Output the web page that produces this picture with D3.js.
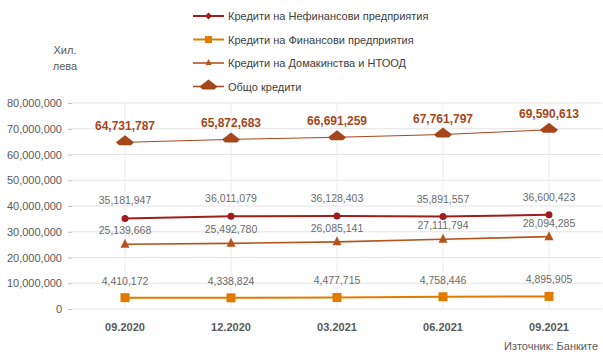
<!DOCTYPE html>
<html>
<head>
<meta charset="utf-8">
<script src="https://cdn.jsdelivr.net/npm/d3@7"></script>
<style>
  body { margin: 0; background: #fff; }
  text { font-family: "Liberation Sans", Arial, sans-serif; }
</style>
</head>
<body>
<svg id="chart"></svg>
<script>
var w = 603;
var h = 362;

// data
var periods = ["09.2020", "12.2020", "03.2021", "06.2021", "09.2021"];
var nonFinancial = [35181947, 36011079, 36128403, 35891557, 36600423];
var financial = [4410172, 4338824, 4477715, 4758446, 4895905];
var households = [25139668, 25492780, 26085141, 27111794, 28094285];
var total = [64731787, 65872683, 66691259, 67761797, 69590613];
var seriesNames = [
  "Кредити на Нефинансови предприятия",
  "Кредити на Финансови предприятия",
  "Кредити на Домакинства и НТООД",
  "Общо кредити"
];
var yTicks = [0, 10000000, 20000000, 30000000, 40000000, 50000000, 60000000, 70000000, 80000000];

var margin = { top: 103, right: 1, bottom: 53, left: 72 };

var svg = d3.select("#chart").attr("width", w).attr("height", h);

var x = d3.scaleBand()
  .domain(periods)
  .range([margin.left, w - margin.right]);

var y = d3.scaleLinear()
  .domain([0, 80000000])
  .range([h - margin.bottom, margin.top]);

var fmt = d3.format(",");

// horizontal grid
svg.append("g")
  .selectAll("line")
  .data(yTicks)
  .enter()
  .append("line")
  .attr("x1", margin.left)
  .attr("x2", w - margin.right)
  .attr("y1", d => y(d))
  .attr("y2", d => y(d))
  .attr("stroke", "#e3e3e3")
  .attr("stroke-width", 1);

// vertical grid at categories
svg.append("g")
  .selectAll("line")
  .data(periods)
  .enter()
  .append("line")
  .attr("x1", d => x(d) + x.bandwidth() / 2)
  .attr("x2", d => x(d) + x.bandwidth() / 2)
  .attr("y1", y(80000000))
  .attr("y2", y(0))
  .attr("stroke", "#ececec")
  .attr("stroke-width", 1);

// y axis
var yAxis = svg.append("g")
  .attr("transform", "translate(" + margin.left + ",0)")
  .call(d3.axisLeft(y).tickValues(yTicks).tickFormat(fmt).tickSize(4).tickPadding(6));
yAxis.select(".domain").remove();
yAxis.selectAll("line").attr("stroke", "#bfbfbf");
yAxis.selectAll("text")
  .attr("fill", "#595959")
  .style("font-size", "11px")
  .style("font-family", "'Liberation Sans', Arial, sans-serif");

// x axis labels
svg.append("g")
  .selectAll("text")
  .data(periods)
  .enter()
  .append("text")
  .attr("x", d => x(d) + x.bandwidth() / 2)
  .attr("y", 331)
  .attr("text-anchor", "middle")
  .attr("fill", "#595959")
  .style("font-size", "11px")
  .style("font-weight", "bold")
  .text(d => d);

var cx = function(i) { return x(periods[i]) + x.bandwidth() / 2; };

var series = [
  { name: seriesNames[0], values: nonFinancial, color: "#a11c1c", width: 2, marker: "circle", size: 3.5 },
  { name: seriesNames[1], values: financial, color: "#e07b00", width: 2, marker: "square", size: 9 },
  { name: seriesNames[2], values: households, color: "#b5541c", width: 1.6, marker: "triangle", size: 9 },
  { name: seriesNames[3], values: total, color: "#a4471b", width: 1, marker: "big", size: 18 }
];

function drawMarker(g, s, px, py) {
  if (s.marker === "circle") {
    g.append("circle").attr("cx", px).attr("cy", py).attr("r", s.size).attr("fill", s.color);
  } else if (s.marker === "square") {
    g.append("rect").attr("x", px - s.size / 2).attr("y", py - s.size / 2)
      .attr("width", s.size).attr("height", s.size).attr("fill", s.color);
  } else if (s.marker === "triangle") {
    var r = s.size / 2;
    g.append("path")
      .attr("d", "M" + px + "," + (py - r - 1) + "L" + (px + r) + "," + (py + r - 1) + "L" + (px - r) + "," + (py + r - 1) + "Z")
      .attr("fill", s.color);
  } else {
    var hw = s.size / 2;
    g.append("path")
      .attr("d", "M" + px + "," + (py - 7) + "L" + (px + hw) + "," + (py) + "L" + (px + hw - 3) + "," + (py + 3) +
        "L" + (px - hw + 3) + "," + (py + 3) + "L" + (px - hw) + "," + py + "Z")
      .attr("fill", s.color);
  }
}

var line = d3.line()
  .x((d, i) => cx(i))
  .y(d => y(d));

series.forEach(function(s) {
  var g = svg.append("g");
  g.append("path")
    .datum(s.values)
    .attr("d", line)
    .attr("fill", "none")
    .attr("stroke", s.color)
    .attr("stroke-width", s.width);
  s.values.forEach(function(v, i) {
    drawMarker(g, s, cx(i), y(v));
  });
});

// data labels (offset above the point, per series)
[[nonFinancial, 14], [financial, 13], [households, 10]].forEach(function(pair) {
  svg.append("g")
    .selectAll("text")
    .data(pair[0])
    .enter()
    .append("text")
    .attr("x", (d, i) => cx(i))
    .attr("y", d => y(d) - pair[1])
    .attr("text-anchor", "middle")
    .attr("fill", "#6b6b6b")
    .style("font-size", "10.5px")
    .text(d => fmt(d));
});

svg.append("g")
  .selectAll("text")
  .data(total)
  .enter()
  .append("text")
  .attr("x", (d, i) => cx(i))
  .attr("y", d => y(d) - 12)
  .attr("text-anchor", "middle")
  .attr("fill", "#a4471b")
  .style("font-size", "12px")
  .style("font-weight", "bold")
  .text(d => fmt(d));

// legend
var legend = svg.append("g");
series.forEach(function(s, i) {
  var ly = 16 + i * 23.5;
  var lg = legend.append("g");
  lg.append("line")
    .attr("x1", 193).attr("x2", 224)
    .attr("y1", ly).attr("y2", ly)
    .attr("stroke", s.color)
    .attr("stroke-width", s.width === 1 ? 1.5 : s.width);
  var ms = Object.assign({}, s);
  if (s.marker === "circle") {
    lg.append("path")
      .attr("d", "M208.5," + (ly - 3.5) + "L212," + ly + "L208.5," + (ly + 3.5) + "L205," + ly + "Z")
      .attr("fill", s.color);
  } else {
    if (s.marker === "square") ms.size = 7;
    if (s.marker === "triangle") ms.size = 6;
    drawMarker(lg, ms, 208.5, ly);
  }
  lg.append("text")
    .attr("x", 228)
    .attr("y", ly + 4)
    .attr("fill", "#404040")
    .style("font-size", "11px")
    .text(s.name);
});

// unit label
svg.append("text")
  .attr("x", 65).attr("y", 54)
  .attr("text-anchor", "middle")
  .attr("fill", "#595959")
  .style("font-size", "11px")
  .text("Хил.");
svg.append("text")
  .attr("x", 65).attr("y", 70)
  .attr("text-anchor", "middle")
  .attr("fill", "#595959")
  .style("font-size", "11px")
  .text("лева");

// source
svg.append("text")
  .attr("x", 598).attr("y", 350)
  .attr("text-anchor", "end")
  .attr("fill", "#595959")
  .style("font-size", "11px")
  .text("Източник: Банките");
</script>
</body>
</html>
